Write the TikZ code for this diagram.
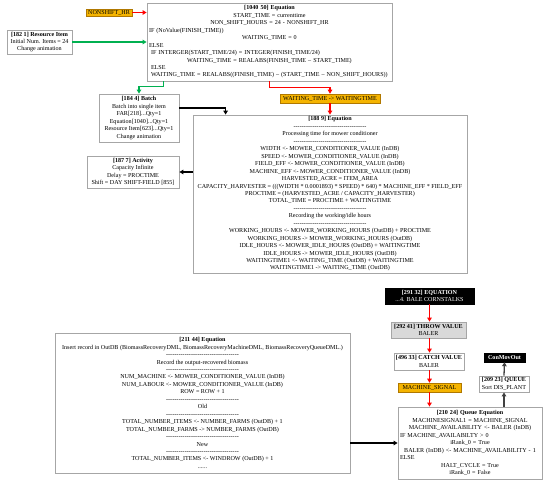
\documentclass[tikz,border=0pt]{standalone}
\usepackage{fontspec}
\setmainfont{Liberation Serif}
\usetikzlibrary{arrows.meta,calc}
\definecolor{boxgray}{HTML}{A6A6A6}
\definecolor{sigorange}{HTML}{F5B400}
\definecolor{sigborder}{HTML}{B07800}
\definecolor{arrred}{HTML}{FF0000}
\definecolor{arrgreen}{HTML}{00B050}
\definecolor{arrdark}{HTML}{404040}
\definecolor{throwfill}{HTML}{D9D9D9}
\newcommand\dashrow{\hbox to 73pt{\xleaders\hbox{-}\hfill}}
\newcommand\lline[1]{\makebox[\linewidth][l]{#1}}
\begin{document}
\begin{tikzpicture}[x=1pt,y=-1pt,
  every node/.style={font=\fontsize{6.1}{7.45}\selectfont, inner sep=1pt, align=center},
  gbox/.style={draw=boxgray, line width=0.8pt, fill=white},
  sigbox/.style={draw=sigborder, line width=0.5pt, fill=sigorange},
  blackbox/.style={draw=black, fill=black, text=white},
  arr/.style={line width=1.3pt, -{Triangle[length=4pt,width=4.5pt]}},
  redarr/.style={arr, draw=arrred, color=arrred},
  greenarr/.style={arr, draw=arrgreen, color=arrgreen},
  blackarr/.style={arr, draw=black},
  darkarr/.style={arr, draw=arrdark, color=arrdark}]
\useasboundingbox (0,0) rectangle (550,484);

% nodes
\node[sigbox, minimum width=46pt, minimum height=7pt, inner sep=0.5pt] (nons) at (109,12.5) {NONSHIFT\_HR};
\node[gbox, text width=241pt, minimum height=78pt, inner sep=2pt] (eq1040) at (269.5,42) {%
\textbf{[1040 50] Equation}\\
START\_TIME = currenttime\\
NON\_SHIFT\_HOURS = 24 - NONSHIFT\_HR\\
\lline{IF (NoValue(FINISH\_TIME))}\\
WAITING\_TIME = 0\\
\lline{ELSE}\\
\lline{\hspace{2pt}IF INTERGER(START\_TIME/24) = INTEGER(FINISH\_TIME/24)}\\
WAITING\_TIME = REALABS(FINISH\_TIME – START\_TIME)\\
\lline{\hspace{2pt}ELSE}\\
\lline{\hspace{2pt}WAITING\_TIME = REALABS((FINISH\_TIME) – (START\_TIME – NON\_SHIFT\_HOURS))}};
\node[gbox, minimum width=65pt, minimum height=24pt] (res) at (39.5,42) {\textbf{[182 1] Resource Item}\\Initial Num. Items = 24\\Change animation};
\node[sigbox, minimum width=100pt, minimum height=9pt, inner sep=0.5pt] (wait) at (330,98.5) {WAITING\_TIME -> WAITINGTIME};
\node[gbox, minimum width=274pt, minimum height=158pt] (eq188) at (330,194) {%
\textbf{[188 9] Equation}\\
\dashrow\\
Processing time for mower conditioner\\
\dashrow\\
WIDTH <- MOWER\_CONDITIONER\_VALUE (InDB)\\
SPEED <- MOWER\_CONDITIONER\_VALUE (InDB)\\
FIELD\_EFF <- MOWER\_CONDITIONER\_VALUE (InDB)\\
MACHINE\_EFF <- MOWER\_CONDITIONER\_VALUE (InDB)\\
HARVESTED\_ACRE = ITEM\_AREA\\
CAPACITY\_HARVESTER = (((WIDTH * 0.0001893) * SPEED) * 640) * MACHINE\_EFF * FIELD\_EFF\\
PROCTIME = (HARVESTED\_ACRE / CAPACITY\_HARVESTER)\\
TOTAL\_TIME = PROCTIME + WAITINGTIME\\
\dashrow\\
Recording the working/idle hours\\
\dashrow\\
WORKING\_HOURS <- MOWER\_WORKING\_HOURS (OutDB) + PROCTIME\\
WORKING\_HOURS -> MOWER\_WORKING\_HOURS (OutDB)\\
IDLE\_HOURS <- MOWER\_IDLE\_HOURS (OutDB) + WAITINGTIME\\
IDLE\_HOURS -> MOWER\_IDLE\_HOURS (OutDB)\\
WAITINGTIME1 <- WAITING\_TIME (OutDB) + WAITINGTIME\\
WAITINGTIME1 -> WAITING\_TIME (OutDB)};
\node[gbox, minimum width=80pt, minimum height=48pt] (batch) at (139,118) {\textbf{[184 4] Batch}\\Batch into single item\\FAR[218]...Qty=1\\Equation[1040]...Qty=1\\Resource Item[623]...Qty=1\\Change animation};
\node[gbox, minimum width=92pt, minimum height=32pt] (act) at (133,172) {\textbf{[187 7] Activity}\\Capacity Infinite\\Delay = PROCTIME\\Shift = DAY SHIFT-FIELD [855]};
\node[blackbox, minimum width=89pt, minimum height=16pt] (eq291) at (429.5,296) {\textbf{[291 32] EQUATION}\\...4. BALE CORNSTALKS};
\node[gbox, fill=throwfill, minimum width=75pt, minimum height=16pt] (throw) at (428.5,330) {\textbf{[292 41] THROW VALUE}\\BALER};
\node[gbox, minimum width=70pt, minimum height=17pt] (catch) at (429,361.5) {\textbf{[496 33] CATCH VALUE}\\BALER};
\node[sigbox, minimum width=63pt, minimum height=9pt, inner sep=0.5pt] (msig) at (429.5,387.5) {MACHINE\_SIGNAL};
\node[gbox, text width=140pt, minimum height=72pt, inner sep=2pt] (qeq) at (470,443) {%
\textbf{[210 24] Queue Equation}\\
MACHINESIGNAL1 = MACHINE\_SIGNAL\\
MACHINE\_AVAILABILITY <- BALER (InDB)\\
\lline{IF MACHINE\_AVAILABILTY > 0}\\
iRank\_0 = True\\
BALER (InDB) <- MACHINE\_AVAILABILITY - 1\\
\lline{ELSE}\\
HALT\_CYCLE = True\\
iRank\_0 = False};
\node[blackbox, minimum width=41pt, minimum height=9pt, inner sep=0.5pt] (conm) at (504.5,357.5) {\textbf{ConMovOut}};
\node[gbox, minimum width=50pt, minimum height=16pt] (queue) at (504,384) {\textbf{[209 23] QUEUE}\\Sort DIS\_PLANT};
\node[gbox, minimum width=295pt, minimum height=140pt] (eq211) at (202.5,403) {%
\textbf{[211 44] Equation}\\
Insert record in OutDB (BiomassRecoveryDML, BiomassRecoveryMachineDML, BiomassRecoveryQueueDML.)\\
\dashrow\\
Record the output-recovered biomass\\
\dashrow\\
NUM\_MACHINE <- MOWER\_CONDITIONER\_VALUE (InDB)\\
NUM\_LABOUR <- MOWER\_CONDITIONER\_VALUE (InDB)\\
ROW = ROW + 1\\
\dashrow\\
Old\\
\dashrow\\
TOTAL\_NUMBER\_ITEMS <- NUMBER\_FARMS (OutDB) + 1\\
TOTAL\_NUMBER\_FARMS -> NUMBER\_FARMS (OutDB)\\
\dashrow\\
New\\
\dashrow\\
TOTAL\_NUMBER\_ITEMS <- WINDROW (OutDB) + 1\\
......};

% connectors
\draw[redarr] (nons.east) -- (nons.east -| eq1040.west);
\draw[greenarr] (res.east) -- (res.east -| eq1040.west);
\draw[greenarr] ([xshift=17pt]eq1040.south west) -- ++(0,5) -| (batch.north);
\draw[redarr] ([xshift=123pt]eq1040.south west) -- ++(0,6) -| (wait.north);
\draw[redarr] (wait.south) -- (wait.south |- eq188.north);
\draw[blackarr] ([yshift=10pt]batch.east) -| ([xshift=33pt]eq188.north west);
\draw[blackarr] (eq188.west |- act.east) -- (act.east);
\draw[redarr] (eq291.south) -- (eq291.south |- throw.north);
\draw[redarr] (eq291.south |- throw.south) -- (eq291.south |- catch.north);
\draw[redarr] (eq291.south |- catch.south) -- (eq291.south |- msig.north);
\draw[redarr] (eq291.south |- msig.south) -- (eq291.south |- qeq.north);
\draw[blackarr] (eq211.east |- qeq.west) -- (qeq.west);
\draw[darkarr] (qeq.north -| queue.south) -- (queue.south);
\draw[darkarr] (queue.north) -- (conm.south);
\end{tikzpicture}
\end{document}
